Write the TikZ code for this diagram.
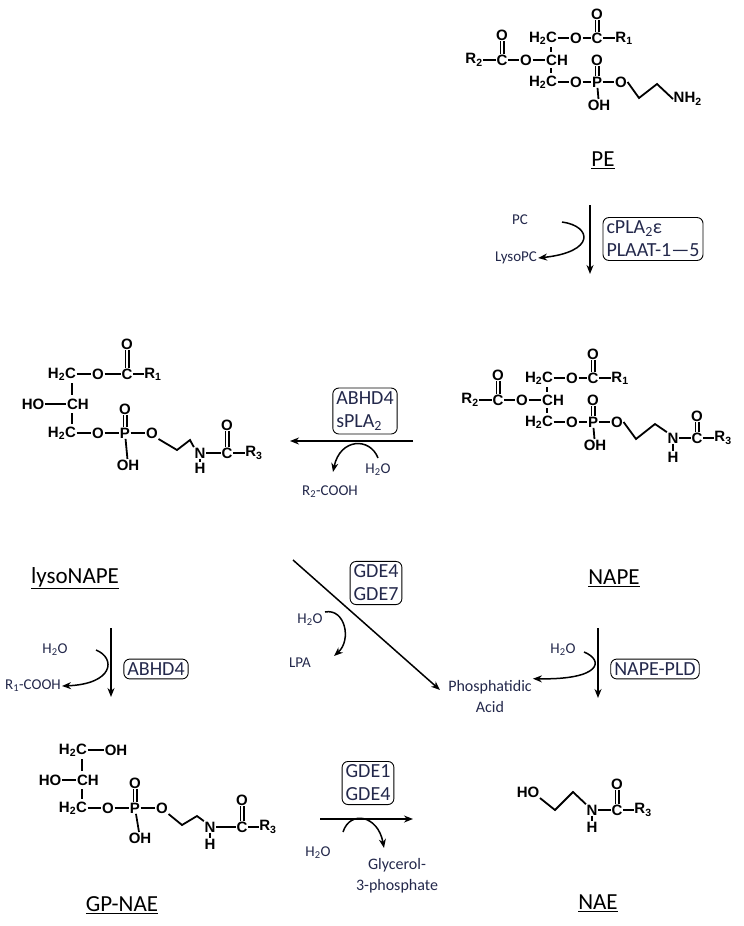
\documentclass[tikz,border=0pt]{standalone}
\usepackage{fontspec}
\setmainfont{Carlito}
\setsansfont{Liberation Sans}
\usetikzlibrary{arrows.meta}
\definecolor{lbl}{RGB}{35,40,75}
\newcommand\sbs[1]{\textsubscript{#1}}
\tikzset{
 atom/.style={font=\sffamily\bfseries\fontsize{15}{15}\selectfont,inner sep=0.5pt},
 bond/.style={line width=1.8pt},
 dbl/.style={double,double distance=2.4pt,line width=1.3pt},
 arr/.style={line width=1.5pt,-{Stealth[length=9pt,width=7pt]}},
 enz/.style={draw,rounded corners=6pt,line width=0.9pt,font=\fontsize{20}{23}\selectfont,align=left,inner sep=3.5pt,text=lbl},
 sm/.style={font=\fontsize{15}{16}\selectfont,text=lbl,inner sep=1pt},
 title/.style={font=\fontsize{23}{24}\selectfont,text=black,inner sep=1pt}
}
\newcommand\diacyl[1]{%
 \node[atom] (#1ch) at (0,0) {CH};
 \node[atom] (#1ht) at (-14,-22) {H\sbs{2}C};
 \node[atom] (#1o1) at (19,-22) {O};
 \node[atom] (#1c1) at (40,-22) {C};
 \node[atom] (#1d1) at (40,-46) {O};
 \node[atom] (#1r1) at (67,-22) {R\sbs{1}};
 \node[atom] (#1o2) at (-31,0) {O};
 \node[atom] (#1c2) at (-55,0) {C};
 \node[atom] (#1d2) at (-55,-25) {O};
 \node[atom] (#1r2) at (-83,0) {R\sbs{2}};
 \node[atom] (#1hb) at (-14,22) {H\sbs{2}C};
 \node[atom] (#1o3) at (19,22) {O};
 \node[atom] (#1p) at (40,22) {P};
 \node[atom] (#1d3) at (40,0) {O};
 \node[atom] (#1oh) at (42,45) {OH};
 \node[atom] (#1o4) at (64,22) {O};
 \draw[bond] (#1ht) -- (#1o1); \draw[bond] (#1o1) -- (#1c1); \draw[bond] (#1c1) -- (#1r1);
 \draw[dbl] (#1c1) -- (#1d1);
 \draw[bond] (#1r2) -- (#1c2); \draw[bond] (#1c2) -- (#1o2); \draw[bond] (#1o2) -- (#1ch);
 \draw[dbl] (#1c2) -- (#1d2);
 \draw[bond] (#1hb) -- (#1o3); \draw[bond] (#1o3) -- (#1p); \draw[bond] (#1p) -- (#1o4);
 \draw[dbl] (#1p) -- (#1d3); \draw[bond] (#1p) -- (#1oh);
 \draw[bond] (-6,-13) -- (-6,-8); \draw[bond] (-6,8) -- (-6,13);
}
\begin{document}
\begin{tikzpicture}[x=1pt,y=-1pt]
\useasboundingbox (0,0) rectangle (744,926);
% ---------- PE
\begin{scope}[shift={(557,60)}]
 \diacyl{pe}
 \node[atom,anchor=west] (penh) at (116,39) {NH\sbs{2}};
 \draw[bond] (peo4.east) -- (82,38) -- (100,24) -- (penh.west);
\end{scope}
\node[title] (pet) at (603,160) {\underline{PE}};
% ---------- NAPE
\begin{scope}[shift={(553,400)}]
 \diacyl{na}
 \node[atom] (nan) at (120,38) {N};
 \node[atom] (nah) at (120,57) {H};
 \node[atom] (nac) at (144,38) {C};
 \node[atom] (nao) at (144,16) {O};
 \node[atom] (nar) at (170,38) {R\sbs{3}};
 \draw[bond] (nao4.east) -- (83,39) -- (102,24) -- (nan.north west);
 \draw[bond] (nan) -- (nah); \draw[bond] (nan) -- (nac); \draw[bond] (nac) -- (nar);
 \draw[dbl] (nac) -- (nao);
\end{scope}
\node[title] (napet) at (614,578) {\underline{NAPE}};
% ---------- lysoNAPE
\begin{scope}[shift={(78,404)}]
 \node[atom] (lch) at (0,0) {CH};
 \node[atom] (lht) at (-16,-30) {H\sbs{2}C};
 \node[atom] (lo1) at (20,-30) {O};
 \node[atom] (lc1) at (49,-30) {C};
 \node[atom] (ld1) at (49,-60) {O};
 \node[atom] (lr1) at (75,-30) {R\sbs{1}};
 \node[atom] (lho) at (-45,0) {HO};
 \node[atom] (lhb) at (-16,29) {H\sbs{2}C};
 \node[atom] (lo3) at (20,29) {O};
 \node[atom] (lp) at (47,29) {P};
 \node[atom] (ld3) at (47,5) {O};
 \node[atom] (loh) at (50,61) {OH};
 \node[atom] (lo4) at (74,29) {O};
 \node[atom] (ln) at (122,49) {N};
 \node[atom] (lh) at (122,64) {H};
 \node[atom] (lc) at (149,49) {C};
 \node[atom] (lo) at (149,21) {O};
 \node[atom] (lr) at (176,49) {R\sbs{3}};
 \draw[bond] (lht) -- (lo1); \draw[bond] (lo1) -- (lc1); \draw[bond] (lc1) -- (lr1); \draw[dbl] (lc1) -- (ld1);
 \draw[bond] (lho) -- (lch);
 \draw[bond] (-6,-21) -- (-6,-9); \draw[bond] (-6,9) -- (-6,20);
 \draw[bond] (lhb) -- (lo3); \draw[bond] (lo3) -- (lp); \draw[bond] (lp) -- (lo4); \draw[dbl] (lp) -- (ld3); \draw[bond] (lp) -- (loh);
 \draw[bond] (lo4.south east) -- (99,46) -- (112,36) -- (ln.north west);
 \draw[bond] (ln) -- (lh); \draw[bond] (ln) -- (lc); \draw[bond] (lc) -- (lr); \draw[dbl] (lc) -- (lo);
\end{scope}
\node[title] (lysot) at (75,578) {\underline{lysoNAPE}};
% ---------- GP-NAE
\begin{scope}[shift={(88,780)}]
 \node[atom] (gch) at (0,0) {CH};
 \node[atom] (ght) at (-15,-30) {H\sbs{2}C};
 \node[atom] (goht) at (28,-30) {OH};
 \node[atom] (gho) at (-38,0) {HO};
 \node[atom] (ghb) at (-15,28) {H\sbs{2}C};
 \node[atom] (go3) at (20,28) {O};
 \node[atom] (gp) at (47,28) {P};
 \node[atom] (gd3) at (47,3) {O};
 \node[atom] (goh) at (52,58) {OH};
 \node[atom] (go4) at (74,28) {O};
 \node[atom] (gn) at (122,47) {N};
 \node[atom] (gh) at (122,64) {H};
 \node[atom] (gc) at (154,47) {C};
 \node[atom] (go) at (154,20) {O};
 \node[atom] (gr) at (180,47) {R\sbs{3}};
 \draw[bond] (ght) -- (goht); \draw[bond] (gho) -- (gch);
 \draw[bond] (-6,-21) -- (-6,-9); \draw[bond] (-6,9) -- (-6,19);
 \draw[bond] (ghb) -- (go3); \draw[bond] (go3) -- (gp); \draw[bond] (gp) -- (go4); \draw[dbl] (gp) -- (gd3); \draw[bond] (gp) -- (goh);
 \draw[bond] (go4.south east) -- (94,45) -- (109,36) -- (gn.north west);
 \draw[bond] (gn) -- (gh); \draw[bond] (gn) -- (gc); \draw[bond] (gc) -- (gr); \draw[dbl] (gc) -- (go);
\end{scope}
\node[title] (gpt) at (122,905) {\underline{GP-NAE}};
% ---------- NAE
\node[atom] (eho) at (528,792) {HO};
\node[atom] (en) at (592,810) {N};
\node[atom] (eh) at (592,827) {H};
\node[atom] (ec) at (617,810) {C};
\node[atom] (eo) at (617,784) {O};
\node[atom] (er) at (643,810) {R\sbs{3}};
\draw[bond] (eho.south east) -- (555,810) -- (573,792) -- (en.north west);
\draw[bond] (en) -- (eh); \draw[bond] (en) -- (ec); \draw[bond] (ec) -- (er); \draw[dbl] (ec) -- (eo);
\node[title] (naet) at (598,903) {\underline{NAE}};
% ---------- PE -> NAPE
\coordinate (a1s) at (590,205); \coordinate (a1e) at (590,274);
\draw[arr] (a1s) -- (a1e);
\node[enz] (e1) at (653,239) {cPLA\sbs{2}ε\\PLAAT-1—5};
\node[sm] (pc) at (520,220) {PC};
\node[sm] (lpc) at (516,258) {LysoPC};
\coordinate (c1s) at (562,222);
\draw[arr] (c1s) .. controls (592,226) and (596,252) .. (lpc.east);
% ---------- NAPE -> lysoNAPE
\coordinate (a2s) at (413,441); \coordinate (a2e) at (290,441);
\draw[arr] (a2s) -- (a2e);
\node[enz] (e2) at (365,411) {ABHD4\\sPLA\sbs{2}};
\node[sm] (h2o2) at (378,470) {H\sbs{2}O};
\node[sm] (r2c) at (330,492) {R\sbs{2}-COOH};
\coordinate (c2s) at (378,458);
\draw[arr] (c2s) .. controls (370,437) and (340,438) .. (333,472);
% ---------- lysoNAPE -> GP-NAE
\coordinate (a3s) at (111,628); \coordinate (a3e) at (111,697);
\draw[arr] (a3s) -- (a3e);
\node[enz] (e3) at (156,669) {ABHD4};
\node[sm] (h2o3) at (55,650) {H\sbs{2}O};
\node[sm] (r1c) at (33,686) {R\sbs{1}-COOH};
\coordinate (c3s) at (96,650);
\draw[arr] (c3s) .. controls (116,658) and (114,684) .. (r1c.east);
% ---------- lysoNAPE -> NAE diagonal
\coordinate (a4s) at (293,560); \coordinate (a4e) at (440,690);
\draw[arr] (a4s) -- (a4e);
\node[enz] (e4) at (376,583) {GDE4\\GDE7};
\node[sm] (h2o4) at (310,620) {H\sbs{2}O};
\node[sm] (lpa) at (300,663) {LPA};
\coordinate (c4s) at (325,612);
\draw[arr] (c4s) .. controls (345,608) and (352,640) .. (334,656);
% ---------- NAPE -> NAE
\coordinate (a5s) at (598,628); \coordinate (a5e) at (598,698);
\draw[arr] (a5s) -- (a5e);
\node[enz] (e5) at (655,669) {NAPE-PLD};
\node[sm] (h2o5) at (563,650) {H\sbs{2}O};
\node[sm,align=center,font=\fontsize{16}{21}\selectfont] (pa) at (490,696) {Phosphatidic\\Acid};
\coordinate (c5s) at (584,652);
\draw[arr] (c5s) .. controls (604,660) and (602,680) .. (pa.north east);
% ---------- GP-NAE -> NAE
\coordinate (a6s) at (320,819); \coordinate (a6e) at (413,819);
\draw[arr] (a6s) -- (a6e);
\node[enz] (e6) at (368,783) {GDE1\\GDE4};
\node[sm] (h2o6) at (318,853) {H\sbs{2}O};
\node[sm,align=center,font=\fontsize{16}{21}\selectfont] (g3p) at (397,876) {Glycerol-\\3-phosphate};
\coordinate (c6s) at (343,832);
\draw[arr] (c6s) .. controls (350,810) and (378,815) .. (384,848);
\end{tikzpicture}
\end{document}
